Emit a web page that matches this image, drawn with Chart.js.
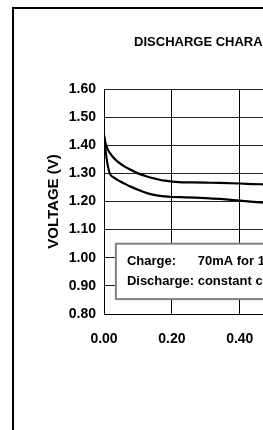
<!DOCTYPE html>
<html>
<head>
<meta charset="utf-8">
<script src="https://cdn.jsdelivr.net/npm/chart.js@4.4.1/dist/chart.umd.min.js"></script>
<style>
html, body { margin: 0; padding: 0; width: 263px; height: 430px; overflow: hidden; background: #fff; }
#frame { position: absolute; left: 12px; top: 7px; width: 700px; height: 700px; border: 2px solid #000; }
#chart { position: absolute; left: 0; top: 0; }
</style>
</head>
<body>
<div id="frame"></div>
<canvas id="chart" width="474" height="430"></canvas>
<script>
// Valeurs
const upperX = [0.000, 0.005, 0.012, 0.025, 0.041, 0.060, 0.080, 0.100, 0.129, 0.155, 0.178, 0.200, 0.220, 0.260, 0.300, 0.340, 0.400, 0.440, 0.470];
const upperV = [1.435, 1.405, 1.383, 1.360, 1.341, 1.325, 1.312, 1.300, 1.288, 1.280, 1.274, 1.271, 1.269, 1.268, 1.267, 1.266, 1.264, 1.262, 1.261];

const lowerX = [0.000, 0.008, 0.017, 0.030, 0.041, 0.060, 0.080, 0.100, 0.129, 0.155, 0.178, 0.200, 0.240, 0.300, 0.340, 0.380, 0.400, 0.440, 0.470];
const lowerV = [1.435, 1.350, 1.300, 1.285, 1.276, 1.264, 1.252, 1.242, 1.229, 1.222, 1.218, 1.216, 1.215, 1.212, 1.209, 1.205, 1.203, 1.199, 1.196];

const noteLabels = ['Charge:', 'Discharge:'];
const noteValues = ['70mA for 16 hours', 'constant current'];

const boldFont = (size) => ({ family: 'Liberation Sans', size: size, weight: 'bold', lineHeight: 1.2 });

// Encadré de texte (conditions de charge / décharge)
const noteBox = {
    id: 'noteBox',
    beforeDatasetsDraw(chart) {
        const { ctx, scales: { x, y } } = chart;
        const left = x.getPixelForValue(0.035);
        const right = x.getPixelForValue(1.0);
        const top = y.getPixelForValue(1.05);
        const bottom = y.getPixelForValue(0.853);

        ctx.save();
        ctx.fillStyle = '#fff';
        ctx.fillRect(left, top, right - left, bottom - top);
        ctx.strokeStyle = '#808080';
        ctx.lineWidth = 2;
        ctx.strokeRect(left, top, right - left, bottom - top);

        ctx.font = 'bold 13px "Liberation Sans"';
        ctx.fillStyle = '#000';
        ctx.textBaseline = 'middle';
        const textX = left + 11;
        const valueX = textX + ctx.measureText('Discharge: ').width;
        noteLabels.forEach((label, i) => {
            const lineY = top + 18 + i * 19.5;
            ctx.fillText(label, textX, lineY);
            ctx.fillText(noteValues[i], valueX, lineY);
        });
        ctx.restore();
    }
};

const chart = new Chart(document.getElementById('chart'), {
    type: 'line',
    data: {
        datasets: [{
            label: 'upper',
            data: upperX.map((x, i) => ({ x: x, y: upperV[i] })),
            borderColor: '#000',
            borderWidth: 2.2,
            pointRadius: 0,
            cubicInterpolationMode: 'monotone',
            fill: false
        }, {
            label: 'lower',
            data: lowerX.map((x, i) => ({ x: x, y: lowerV[i] })),
            borderColor: '#000',
            borderWidth: 2.2,
            pointRadius: 0,
            cubicInterpolationMode: 'monotone',
            fill: false
        }]
    },
    options: {
        responsive: false,
        animation: false,
        devicePixelRatio: 1,
        layout: { padding: 0 },
        plugins: {
            legend: { display: false },
            tooltip: { enabled: false },
            title: {
                display: true,
                text: 'DISCHARGE CHARACTERISTICS',
                color: '#000',
                font: boldFont(13),
                padding: { top: 34.5, bottom: 38.9 }
            }
        },
        scales: {
            x: {
                type: 'linear',
                min: 0,
                max: 1.088,
                afterFit(scale) { scale.height = 116; },
                ticks: {
                    stepSize: 0.2,
                    includeBounds: false,
                    padding: 17,
                    maxRotation: 0,
                    autoSkip: false,
                    color: '#000',
                    font: boldFont(14),
                    callback: (v) => v.toFixed(2)
                },
                grid: { color: '#000', lineWidth: 1, drawTicks: false },
                border: { color: '#000', width: 1 }
            },
            y: {
                min: 0.8,
                max: 1.6,
                afterFit(scale) { scale.width = 104; },
                ticks: {
                    stepSize: 0.1,
                    padding: 8,
                    color: '#000',
                    font: boldFont(14),
                    callback: (v) => v.toFixed(2)
                },
                grid: { color: '#222', lineWidth: 1, drawTicks: false },
                border: { color: '#000', width: 1 },
                title: {
                    display: true,
                    text: 'VOLTAGE (V)',
                    color: '#000',
                    font: boldFont(15),
                    padding: { top: 45, bottom: 0 }
                }
            }
        }
    },
    plugins: [noteBox]
});
</script>
</body>
</html>
